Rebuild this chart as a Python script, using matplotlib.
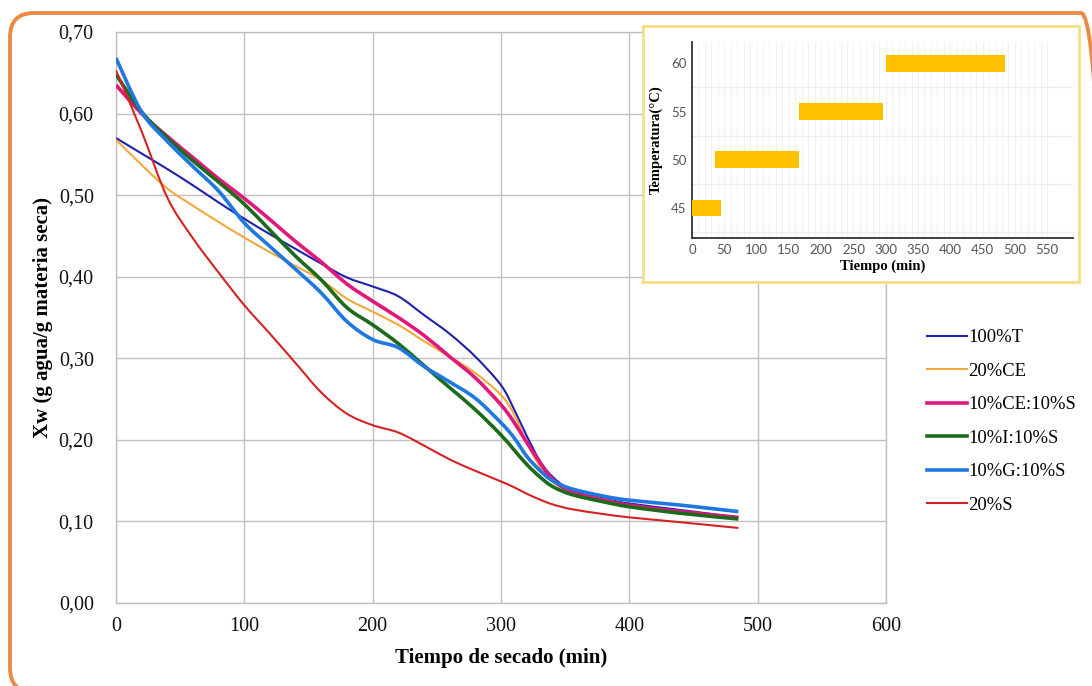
import matplotlib
matplotlib.use("Agg")
import matplotlib.pyplot as plt
from matplotlib.patches import FancyBboxPatch, Rectangle, PathPatch
from matplotlib.path import Path
from matplotlib.lines import Line2D
from matplotlib.transforms import IdentityTransform

# ---------------- data ----------------
time_min = [0, 20, 40, 60, 80, 100, 120, 140, 160, 180, 200, 220, 240, 260,
            280, 300, 310, 320, 330, 340, 355, 380, 400, 440, 485]

xw_100T = [0.570, 0.551, 0.532, 0.512, 0.491, 0.471, 0.452, 0.434, 0.416, 0.399,
           0.388, 0.376, 0.353, 0.330, 0.302, 0.267, 0.238, 0.205, 0.175, 0.155,
           0.138, 0.128, 0.122, 0.114, 0.105]
xw_20CE = [0.568, 0.537, 0.508, 0.487, 0.467, 0.448, 0.430, 0.413, 0.396, 0.373,
           0.357, 0.341, 0.321, 0.302, 0.282, 0.255, 0.232, 0.197, 0.168, 0.149,
           0.136, 0.127, 0.120, 0.112, 0.104]
xw_10CE_10S = [0.635, 0.600, 0.572, 0.546, 0.520, 0.496, 0.470, 0.443, 0.418, 0.391,
               0.370, 0.350, 0.328, 0.302, 0.276, 0.243, 0.222, 0.197, 0.173, 0.152,
               0.136, 0.126, 0.120, 0.112, 0.105]
xw_10I_10S = [0.648, 0.602, 0.570, 0.542, 0.516, 0.489, 0.457, 0.425, 0.396, 0.362,
              0.341, 0.318, 0.291, 0.264, 0.237, 0.206, 0.188, 0.170, 0.155, 0.143,
              0.133, 0.124, 0.118, 0.110, 0.103]
xw_10G_10S = [0.668, 0.602, 0.566, 0.535, 0.505, 0.466, 0.437, 0.409, 0.380, 0.345,
              0.323, 0.313, 0.290, 0.271, 0.251, 0.221, 0.203, 0.180, 0.163, 0.150,
              0.140, 0.131, 0.126, 0.120, 0.112]
xw_20S = [0.653, 0.578, 0.497, 0.447, 0.405, 0.365, 0.330, 0.294, 0.258, 0.232,
          0.218, 0.209, 0.193, 0.176, 0.162, 0.149, 0.142, 0.134, 0.127, 0.121,
          0.115, 0.109, 0.105, 0.099, 0.092]

series_labels = ["100%T", "20%CE", "10%CE:10%S", "10%I:10%S", "10%G:10%S", "20%S"]
series_values = [xw_100T, xw_20CE, xw_10CE_10S, xw_10I_10S, xw_10G_10S, xw_20S]

x_ticks = [0, 100, 200, 300, 400, 500, 600]
y_ticks = [0.0, 0.1, 0.2, 0.3, 0.4, 0.5, 0.6, 0.7]
y_tick_labels = ["0,00", "0,10", "0,20", "0,30", "0,40", "0,50", "0,60", "0,70"]

inset_temps = [45, 50, 55, 60]
inset_start = [0, 35, 165, 300]
inset_duration = [45, 130, 130, 185]
inset_x_ticks = [0, 50, 100, 150, 200, 250, 300, 350, 400, 450, 500, 550]

# ---------------- styles ----------------
colors = ["#1F1FB0", "#F2A93B", "#E2177A", "#1B6B1B", "#1F77E0", "#D62222"]
widths = [1.5, 1.5, 2.6, 2.6, 2.6, 1.5]
serif = "Liberation Serif"

W, H = 1092, 686
fig = plt.figure(figsize=(W / 100, H / 100), dpi=100)
fig.patch.set_facecolor("white")


def fx(px):
    return px / W


def fy(py):
    return 1 - py / H


def smooth_path(xs, ys, k=1.0 / 6.0):
    """Excel-style smoothed line: cubic Bezier segments through every point."""
    n = len(xs)
    verts = [(xs[0], ys[0])]
    codes = [Path.MOVETO]
    for i in range(n - 1):
        i0 = max(i - 1, 0)
        i3 = min(i + 2, n - 1)
        c1 = (xs[i] + (xs[i + 1] - xs[i0]) * k, ys[i] + (ys[i + 1] - ys[i0]) * k)
        c2 = (xs[i + 1] - (xs[i3] - xs[i]) * k, ys[i + 1] - (ys[i3] - ys[i]) * k)
        verts += [c1, c2, (xs[i + 1], ys[i + 1])]
        codes += [Path.CURVE4] * 3
    return Path(verts, codes)


ax = fig.add_axes([fx(116), fy(603), fx(886) - fx(116), fy(32) - fy(603)])
handles = []
for vals, lab, c, lw in zip(series_values, series_labels, colors, widths):
    patch = PathPatch(smooth_path(time_min, vals), facecolor="none", edgecolor=c,
                      lw=lw, capstyle="butt", joinstyle="round", zorder=3)
    ax.add_patch(patch)
    handles.append(Line2D([], [], color=c, lw=lw, label=lab))

ax.set_xlim(0, 600)
ax.set_ylim(0, 0.7)
ax.set_xticks(x_ticks)
ax.set_yticks(y_ticks)
ax.set_yticklabels(y_tick_labels)
ax.tick_params(length=0, labelsize=14.5, colors="#111111")
ax.tick_params(axis="y", pad=16)
ax.tick_params(axis="x", pad=10)
for lbl in ax.get_xticklabels() + ax.get_yticklabels():
    lbl.set_fontfamily(serif)
ax.grid(True, color="#C0C0C0", lw=1.0)
ax.set_axisbelow(True)
for s in ax.spines.values():
    s.set_color("#BFBFBF")
    s.set_linewidth(1.0)

ax.set_xlabel("Tiempo de secado (min)", fontfamily=serif, fontsize=15,
              fontweight="bold")
ax.set_ylabel("Xw (g agua/g materia seca)", fontfamily=serif, fontsize=15,
              fontweight="bold")
ax.xaxis.set_label_coords(0.5, -0.078)
ax.yaxis.set_label_coords(-0.082, 0.5)

# legend
fig.legend(handles=handles, loc="upper left",
           bbox_to_anchor=(fx(920), fy(322)), frameon=False,
           prop={"family": serif, "size": 13.4}, handlelength=2.1,
           handletextpad=0.1, labelspacing=0.88, borderaxespad=0)

# outer orange rounded border (extends beyond the right and bottom edges)
outer = FancyBboxPatch((10, 686 - 692), 1095, 679,
                       boxstyle="round,pad=0,rounding_size=24",
                       transform=IdentityTransform(), facecolor="none",
                       edgecolor="#EB8A45", lw=2.8, zorder=5)
fig.add_artist(outer)

# inset frame
frame = Rectangle((643, 686 - 282), 436, 256, transform=IdentityTransform(),
                  facecolor="white", edgecolor="#F7DD85", lw=2.0, zorder=1)
fig.add_artist(frame)

ins = fig.add_axes([fx(692), fy(238), fx(1073) - fx(692), fy(42) - fy(238)])
ins.set_zorder(2)
ins.barh(inset_temps, inset_duration, left=inset_start, height=1.72,
         color="#FFC000", zorder=3)
ins.set_xlim(0, 590)
ins.set_ylim(41.9, 62.2)
ins.set_xticks(inset_x_ticks)
ins.set_yticks(inset_temps)
for v in range(0, 560, 10):
    ins.axvline(v, color="#F2F2F2", lw=0.8, zorder=1)
for v in [42.5, 47.5, 52.5, 57.5]:
    ins.axhline(v, color="#EDEDED", lw=0.9, zorder=1)
ins.tick_params(length=0, labelsize=9.5, colors="#555555", pad=4)
for lbl in ins.get_xticklabels() + ins.get_yticklabels():
    lbl.set_fontfamily("Lato")
ins.spines["top"].set_visible(False)
ins.spines["right"].set_visible(False)
ins.spines["left"].set_color("#333333")
ins.spines["bottom"].set_color("#333333")
ins.spines["left"].set_linewidth(1.3)
ins.spines["bottom"].set_linewidth(1.3)
ins.set_xlabel("Tiempo (min)", fontfamily=serif, fontsize=10.5,
               fontweight="bold", labelpad=3)
ins.set_ylabel("Temperatura(°C)", fontfamily=serif, fontsize=10.5,
               fontweight="bold", labelpad=6)

fig.savefig("out.png", dpi=100)
